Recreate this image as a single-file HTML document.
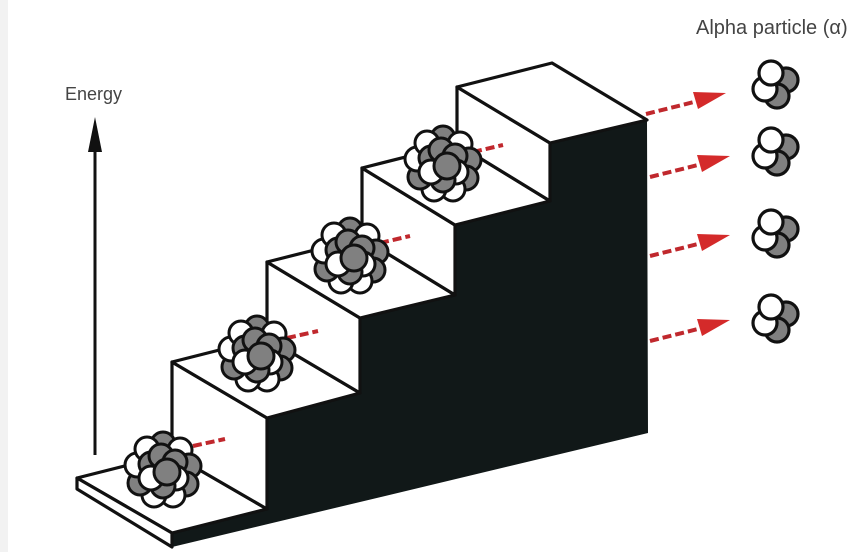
<!DOCTYPE html>
<html><head><meta charset="utf-8"><style>
html,body{margin:0;padding:0;background:#fff;}
svg{display:block;}
text{font-family:"Liberation Sans",sans-serif;fill:#444;}
</style></head><body>
<svg width="866" height="552" viewBox="0 0 866 552" xmlns="http://www.w3.org/2000/svg">
<defs>
<g id="nuc" stroke="#111" stroke-width="3">
  <circle cx="0" cy="-26" r="12" fill="#808080"/>
  <circle cx="17" cy="-20" r="12" fill="#fff"/>
  <circle cx="26" cy="-4" r="12" fill="#808080"/>
  <circle cx="23" cy="14" r="12" fill="#808080"/>
  <circle cx="10" cy="25" r="12" fill="#fff"/>
  <circle cx="-9" cy="25" r="12" fill="#fff"/>
  <circle cx="-23" cy="13" r="12" fill="#808080"/>
  <circle cx="-26" cy="-5" r="12" fill="#fff"/>
  <circle cx="-16" cy="-21" r="12" fill="#fff"/>
  <circle cx="-12" cy="-6" r="12" fill="#808080"/>
  <circle cx="-2" cy="-14" r="12" fill="#808080"/>
  <circle cx="12" cy="-8" r="12" fill="#808080"/>
  <circle cx="13" cy="8" r="12" fill="#fff"/>
  <circle cx="0" cy="16" r="12" fill="#808080"/>
  <circle cx="-12" cy="8" r="12" fill="#fff"/>
  <circle cx="4" cy="2" r="13" fill="#808080"/>
</g>
<g id="alpha" stroke="#111" stroke-width="3.2">
  <circle cx="13" cy="-4" r="12" fill="#808080"/>
  <circle cx="4" cy="12" r="12" fill="#808080"/>
  <circle cx="-8" cy="5" r="12" fill="#fff"/>
  <circle cx="-2" cy="-11" r="12" fill="#fff"/>
</g>
<g id="arr">
  <line x1="0" y1="0" x2="52" y2="-13" stroke="#c0282d" stroke-width="4" stroke-dasharray="9,4"/>
  <polygon points="80,-21 47,-22 52,-5" fill="#d42a2a"/>
</g>
</defs>
<rect x="0" y="0" width="8" height="552" fill="#f2f2f2"/>

<!-- black right face -->
<polygon points="172,533 267,509 267,418 360,393 360,318 455,295 455,225 550,201 550,143 647,120 648,433 172,547" fill="#111818"/>

<!-- white left/top faces -->
<g fill="#fff" stroke="#111" stroke-width="3.2" stroke-linejoin="round">
  <polygon points="77,478 172,454 267,509 172,533"/>
  <polygon points="77,478 77,489 172,547 172,533"/>
  <polygon points="172,454 172,362 267,418 267,509"/>
  <polygon points="172,362 267,338 360,393 267,418"/>
  <polygon points="267,338 267,262 360,318 360,393"/>
  <polygon points="267,262 362,238 455,295 360,318"/>
  <polygon points="362,238 362,168 455,225 455,295"/>
  <polygon points="362,168 457,144 550,201 455,225"/>
  <polygon points="457,144 457,87 550,143 550,201"/>
  <polygon points="457,87 552,63 647,120 550,143"/>
</g>

<!-- energy arrow -->
<line x1="95" y1="455" x2="95" y2="140" stroke="#111" stroke-width="3"/>
<polygon points="95,117 88,152 102,152" fill="#111"/>
<text x="65" y="100" font-size="18">Energy</text>
<text x="696" y="34" font-size="20">Alpha particle (α)</text>

<!-- red dashes from nuclei -->
<g stroke="#c0282d" stroke-width="4" stroke-dasharray="9,4">
  <line x1="193" y1="446" x2="225" y2="439"/>
  <line x1="287" y1="338" x2="318" y2="331"/>
  <line x1="380" y1="243" x2="410" y2="236"/>
  <line x1="473" y1="152" x2="503" y2="145"/>
</g>

<use href="#nuc" x="163" y="470"/>
<use href="#nuc" x="257" y="354"/>
<use href="#nuc" x="350" y="256"/>
<use href="#nuc" x="443" y="164"/>

<use href="#arr" x="646" y="114"/>
<use href="#arr" x="650" y="177"/>
<use href="#arr" x="650" y="256"/>
<use href="#arr" x="650" y="341"/>

<use href="#alpha" x="773" y="84"/>
<use href="#alpha" x="773" y="151"/>
<use href="#alpha" x="773" y="233"/>
<use href="#alpha" x="773" y="318"/>
</svg>
</body></html>
